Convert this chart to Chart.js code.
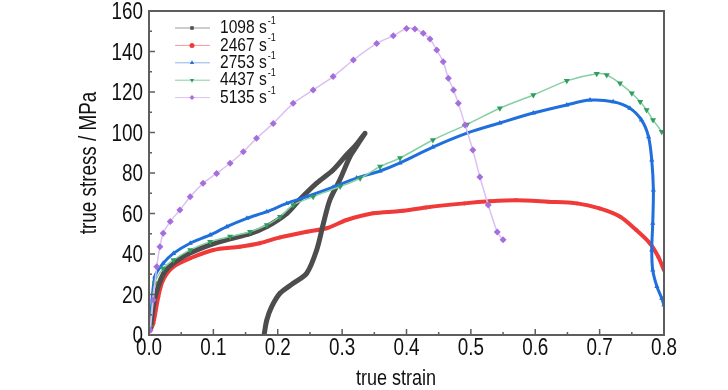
<!DOCTYPE html>
<html>
<head>
<meta charset="utf-8">
<script src="https://cdn.jsdelivr.net/npm/chart.js@4.4.1/dist/chart.umd.min.js"></script>
<style>
  html, body { margin: 0; padding: 0; background: #fff; }
  #wrap { width: 728px; height: 390px; }
</style>
</head>
<body>
<div id="wrap"><canvas id="chart" width="728" height="390"></canvas></div>
<script>
// --- Data ---
const rateNames = ['1098', '2467', '2753', '4437', '5135'];
const xTitle = 'true strain';
const yTitle = 'true stress / MPa';

// 1098 s-1: loading then unloading loop
const strain1098 = [0.002, 0.009, 0.022, 0.038, 0.064, 0.095, 0.126, 0.157, 0.183, 0.214, 0.2345, 0.2605, 0.286, 0.307, 0.322, 0.3355,
                    0.33, 0.322, 0.312, 0.297, 0.281, 0.271, 0.2605, 0.245, 0.224, 0.2035, 0.1906, 0.183, 0.1787];
const stress1098 = [3, 18, 30, 35.5, 40.5, 44.5, 47.5, 50, 53.5, 60, 67, 75, 81.5, 89, 94, 99.6,
                    97, 93, 88, 77, 66.7, 55.2, 42, 30.5, 25.5, 20.6, 14, 7.4, 0];

const strain2467 = [0.002, 0.0067, 0.0145, 0.022, 0.038, 0.064, 0.1, 0.141, 0.172, 0.2035, 0.245, 0.276, 0.307, 0.348, 0.39, 0.43,
                    0.49, 0.53, 0.57, 0.62, 0.665, 0.70, 0.732, 0.757, 0.778, 0.791, 0.8];
const stress2467 = [2, 5.8, 18.9, 27.2, 33.7, 37.9, 42, 43.6, 45.3, 48.2, 51, 52.7, 56.8, 60.1, 61.2, 63,
                    65, 66, 66.5, 65.8, 65, 62.5, 58.4, 51.8, 45.3, 38.7, 32];

const strain2753 = [0.002, 0.009, 0.022, 0.038, 0.064, 0.095, 0.121, 0.152, 0.183, 0.214, 0.245, 0.286, 0.3225, 0.359, 0.39, 0.441,
                    0.494, 0.545, 0.597, 0.649, 0.685, 0.721, 0.747, 0.765, 0.776, 0.781, 0.7835, 0.7825, 0.781, 0.7825, 0.789, 0.7965, 0.8];
const stress2753 = [5, 28.8, 35.4, 40.3, 45.3, 49.4, 53.5, 57.6, 60.9, 65, 68.3, 73, 77.5, 81, 85, 92.8,
                    99.7, 104.7, 109.6, 113.6, 116, 115.2, 112, 106.2, 97.9, 86.4, 71.6, 55.2, 42, 32.1, 23.9, 18.1, 14.8];

const strain4437 = [0.002, 0.009, 0.022, 0.038, 0.064, 0.095, 0.126, 0.157, 0.183, 0.2035, 0.224, 0.255, 0.297, 0.328, 0.359, 0.39,
                    0.441, 0.494, 0.545, 0.597, 0.649, 0.6955, 0.711, 0.7316, 0.75, 0.763, 0.773, 0.783, 0.7965];
const stress4437 = [4, 25.5, 32.9, 37, 42, 46.1, 48.6, 51, 54.3, 58.4, 64.2, 68.3, 73.3, 77.4, 83.2, 87.4,
                    96.3, 104, 112, 118.5, 125.5, 129, 128.4, 124.3, 119.4, 115.2, 111.1, 106.2, 100.4];

const strain5135 = [0.0016, 0.0067, 0.012, 0.017, 0.022, 0.033, 0.048, 0.064, 0.084, 0.105, 0.126, 0.1465, 0.167, 0.193, 0.224, 0.255,
                    0.286, 0.3175, 0.3537, 0.3795, 0.400, 0.413, 0.426, 0.4365, 0.447, 0.457, 0.465, 0.473, 0.4805, 0.491, 0.503,
                    0.514, 0.527, 0.541, 0.55];
const stress5135 = [2.5, 17.3, 33.7, 43.6, 50.2, 56, 61.7, 68.3, 74.9, 79.8, 84.8, 90.5, 97.1, 104.5, 114.4, 121,
                    127.6, 135.8, 144, 147.8, 151.4, 151.1, 149, 146.2, 140.7, 135, 126.8, 121, 114.4, 103.7, 91.4,
                    78, 64.2, 50.9, 47];

const FONT = "'Liberation Sans', Arial, sans-serif";
const NARROW = 0.82; // horizontal squeeze to mimic a narrow face

function pairs(xs, ys) {
    return xs.map((x, i) => ({ x: x, y: ys[i] }));
}

// draws text squeezed horizontally around (x, y)
function narrowText(ctx, text, x, y) {
    ctx.save();
    ctx.translate(x, y);
    ctx.scale(NARROW, 1);
    ctx.fillText(text, 0, 0);
    ctx.restore();
}

// --- Styles per series ---
const seriesStyle = [
    { color: '#4d4d4d', line: '#4d4d4d', legendLine: '#9a9a9a', width: 5, point: 'rect', radius: 2.5, rotation: 0, order: 3 },
    { color: '#f03a3a', line: '#f03a3a', legendLine: '#f59a9a', width: 4, point: 'circle', radius: 2, rotation: 0, order: 4 },
    { color: '#1f6fdc', line: '#1f6fdc', legendLine: '#8fb3ea', width: 3, point: 'triangle', radius: 3, rotation: 0, order: 2 },
    { color: '#2e9e5e', line: '#86cfa3', legendLine: '#86cfa3', width: 1.5, point: 'triangle', radius: 3.5, rotation: 180, order: 1 },
    { color: '#a46fdc', line: '#dcc0f2', legendLine: '#dcc0f2', width: 1.5, point: 'rectRot', radius: 3.5, rotation: 0, order: 0 }
];

const seriesData = [
    pairs(strain1098, stress1098),
    pairs(strain2467, stress2467),
    pairs(strain2753, stress2753),
    pairs(strain4437, stress4437),
    pairs(strain5135, stress5135)
];

const datasets = seriesData.map((data, i) => {
    const s = seriesStyle[i];
    return {
        label: rateNames[i] + ' s-1',
        data: data,
        showLine: true,
        borderColor: s.line,
        borderWidth: s.width,
        backgroundColor: s.color,
        pointBackgroundColor: s.color,
        pointBorderColor: s.color,
        pointBorderWidth: 0,
        pointStyle: s.point,
        pointRadius: s.radius,
        pointRotation: s.rotation,
        tension: 0.3,
        order: s.order,
        legendLine: s.legendLine
    };
});

/**
 * Box frame, inward ticks (major + minor), tick labels and axis titles.
 */
const framePlugin = {
    id: 'frame',
    afterDatasetsDraw(chart) {
        const { ctx, chartArea: a } = chart;
        const xs = chart.scales.x, ys = chart.scales.y;
        ctx.save();
        ctx.strokeStyle = '#5e5e5e';
        ctx.lineWidth = 2;
        ctx.strokeRect(a.left, a.top, a.right - a.left, a.bottom - a.top);

        ctx.lineWidth = 1.5;
        ctx.beginPath();
        xs.ticks.forEach((t, i) => {
            const px = xs.getPixelForValue(t.value);
            ctx.moveTo(px, a.bottom);
            ctx.lineTo(px, a.bottom - 6);
            if (i < xs.ticks.length - 1) {
                const mid = xs.getPixelForValue((t.value + xs.ticks[i + 1].value) / 2);
                ctx.moveTo(mid, a.bottom);
                ctx.lineTo(mid, a.bottom - 3);
            }
        });
        ys.ticks.forEach((t, i) => {
            const py = ys.getPixelForValue(t.value);
            ctx.moveTo(a.left, py);
            ctx.lineTo(a.left + 6, py);
            if (i < ys.ticks.length - 1) {
                const mid = ys.getPixelForValue((t.value + ys.ticks[i + 1].value) / 2);
                ctx.moveTo(a.left, mid);
                ctx.lineTo(a.left + 3, mid);
            }
        });
        ctx.stroke();

        // tick labels
        ctx.fillStyle = '#111';
        ctx.font = '23px ' + FONT;
        ctx.textAlign = 'center';
        ctx.textBaseline = 'top';
        xs.ticks.forEach(t => {
            narrowText(ctx, t.value.toFixed(1), xs.getPixelForValue(t.value), a.bottom + 2);
        });
        ctx.textAlign = 'right';
        ctx.textBaseline = 'middle';
        ys.ticks.forEach(t => {
            narrowText(ctx, String(t.value), a.left - 6, ys.getPixelForValue(t.value) + 2);
        });

        // axis titles
        ctx.textAlign = 'center';
        ctx.textBaseline = 'middle';
        ctx.font = '22px ' + FONT;
        narrowText(ctx, xTitle, 396, 379);
        ctx.translate(90, 163);
        ctx.rotate(-Math.PI / 2);
        ctx.font = '23px ' + FONT;
        narrowText(ctx, yTitle, 0, 0);
        ctx.restore();
    }
};

/**
 * Legend inside the plot, top-left, with s^-1 superscript.
 */
const legendPlugin = {
    id: 'rateLegend',
    afterDatasetsDraw(chart) {
        const { ctx } = chart;
        ctx.save();
        chart.data.datasets.forEach((ds, i) => {
            const yRow = 28 + i * 17.4;
            ctx.strokeStyle = ds.legendLine;
            ctx.lineWidth = 1;
            ctx.beginPath();
            ctx.moveTo(175, yRow);
            ctx.lineTo(210, yRow);
            ctx.stroke();
            ctx.fillStyle = ds.pointBackgroundColor;
            ctx.strokeStyle = ds.pointBackgroundColor;
            Chart.helpers.drawPoint(ctx, { pointStyle: ds.pointStyle, rotation: ds.pointRotation, radius: 2.5, borderWidth: 0 }, 192, yRow);

            ctx.fillStyle = '#111';
            ctx.textAlign = 'left';
            ctx.textBaseline = 'middle';
            ctx.font = '19px ' + FONT;
            const txt = rateNames[i] + ' s';
            narrowText(ctx, txt, 220, yRow);
            const w = ctx.measureText(txt).width * NARROW;
            ctx.font = '11px ' + FONT;
            narrowText(ctx, '-1', 220 + w + 1, yRow - 7);
        });
        ctx.restore();
    }
};

new Chart(document.getElementById('chart'), {
    type: 'scatter',
    data: { datasets: datasets },
    options: {
        responsive: false,
        devicePixelRatio: 1,
        animation: false,
        layout: { padding: { top: 11, right: 64, left: 0, bottom: 0 } },
        plugins: {
            legend: { display: false },
            tooltip: { enabled: false }
        },
        scales: {
            x: {
                type: 'linear',
                min: 0,
                max: 0.8,
                grid: { display: false, drawTicks: false },
                border: { display: false },
                ticks: { stepSize: 0.1, autoSkip: false, display: false },
                afterFit(s) { s.height = 55; s.paddingLeft = 0; s.paddingRight = 0; }
            },
            y: {
                type: 'linear',
                min: 0,
                max: 160,
                grid: { display: false, drawTicks: false },
                border: { display: false },
                ticks: { stepSize: 20, autoSkip: false, display: false },
                afterFit(s) { s.width = 149; s.paddingTop = 0; s.paddingBottom = 0; }
            }
        }
    },
    plugins: [framePlugin, legendPlugin]
});
</script>
</body>
</html>
